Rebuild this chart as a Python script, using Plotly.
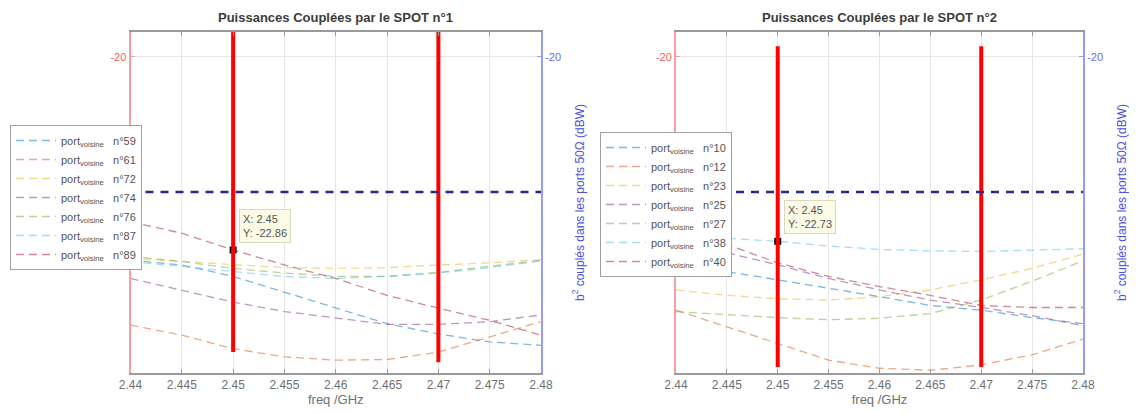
import plotly.graph_objects as go

# ---------------- data ----------------
freq = [2.44, 2.445, 2.45, 2.455, 2.46, 2.465, 2.47, 2.475, 2.48]
freq_labels = ["2.44", "2.445", "2.45", "2.455", "2.46", "2.465", "2.47", "2.475", "2.48"]

port_colors = ["#0072BD", "#D95319", "#EDB120", "#7E2F8E", "#77AC30", "#4DBEEE", "#A2142F"]

# SPOT n°1
spot1_ports = ["59", "61", "72", "74", "76", "87", "89"]
spot1_p59 = [-23.01, -23.08, -23.25, -23.48, -23.72, -23.95, -24.10, -24.22, -24.27]
spot1_p61 = [-23.97, -24.12, -24.32, -24.44, -24.49, -24.48, -24.37, -24.14, -23.92]
spot1_p72 = [-22.98, -23.03, -23.08, -23.12, -23.13, -23.12, -23.08, -23.05, -23.00]
spot1_p74 = [-23.28, -23.45, -23.63, -23.77, -23.87, -23.96, -23.96, -23.92, -23.82]
spot1_p76 = [-22.95, -23.03, -23.13, -23.20, -23.25, -23.25, -23.19, -23.10, -23.01]
spot1_p87 = [-23.03, -23.10, -23.18, -23.25, -23.28, -23.25, -23.20, -23.12, -23.02]
spot1_p89 = [-22.44, -22.61, -22.86, -23.08, -23.28, -23.53, -23.72, -23.90, -24.12]

# SPOT n°2
spot2_ports = ["10", "12", "23", "25", "27", "38", "40"]
spot2_p10 = [-23.12, -23.18, -23.30, -23.42, -23.55, -23.68, -23.75, -23.86, -23.95]
spot2_p12 = [-23.75, -24.00, -24.24, -24.49, -24.61, -24.64, -24.56, -24.41, -24.18]
spot2_p23 = [-23.45, -23.53, -23.58, -23.60, -23.55, -23.45, -23.30, -23.13, -22.92]
spot2_p25 = [-22.74, -22.90, -23.08, -23.28, -23.45, -23.60, -23.71, -23.83, -23.98]
spot2_p27 = [-23.77, -23.82, -23.86, -23.89, -23.87, -23.80, -23.60, -23.32, -23.02]
spot2_p38 = [-22.64, -22.68, -22.73, -22.80, -22.85, -22.87, -22.88, -22.86, -22.84]
spot2_p40 = [-22.50, -22.78, -23.05, -23.25, -23.40, -23.53, -23.68, -23.71, -23.71]

threshold_dbw = -22.0

# red markers (frequency band)
band_freqs = [2.45, 2.47]
spot1_band_top = [-19.63, -19.63]
spot1_band_bottom = [-24.37, -24.52]
spot2_band_top = [-19.84, -19.84]
spot2_band_bottom = [-24.59, -24.59]

# data tips
tip1 = (2.45, -22.86)
tip2 = (2.45, -22.73)

y_range = [-24.68, -19.63]

# ---------------- figure ----------------
W, H = 1137, 414
OFF = 8  # default page body margin
FW, FH = W - OFF, H - OFF

def px(x):
    return (x - OFF) / FW

def py(y):
    return 1 - (y - OFF) / FH

fig = go.Figure()

spot1_vals = [spot1_p59, spot1_p61, spot1_p72, spot1_p74, spot1_p76, spot1_p87, spot1_p89]
spot2_vals = [spot2_p10, spot2_p12, spot2_p23, spot2_p25, spot2_p27, spot2_p38, spot2_p40]

def add_ports(ports, vals, xa, ya, legend):
    for p, v, c in zip(ports, vals, port_colors):
        fig.add_trace(go.Scatter(
            x=freq, y=v, mode="lines", xaxis=xa, yaxis=ya,
            name="port<sub>voisine</sub>&nbsp;&nbsp;&nbsp;n°" + p,
            line=dict(color=c, width=1.3, dash="8px,5px"),
            opacity=0.5, legend=legend, showlegend=True))

add_ports(spot1_ports, spot1_vals, "x", "y", "legend")
add_ports(spot2_ports, spot2_vals, "x2", "y3", "legend2")

# threshold lines on the right axes
for xa, ya in (("x", "y2"), ("x2", "y4")):
    fig.add_trace(go.Scatter(
        x=[freq[0], freq[-1]], y=[threshold_dbw, threshold_dbw], mode="lines",
        xaxis=xa, yaxis=ya, showlegend=False,
        line=dict(color="#28288f", width=2.6, dash="8px,7px")))

# data tip markers
for (tx, ty), xa, ya in ((tip1, "x", "y"), (tip2, "x2", "y3")):
    fig.add_trace(go.Scatter(
        x=[tx], y=[ty], mode="markers", xaxis=xa, yaxis=ya, showlegend=False,
        marker=dict(symbol="square", size=7, color="black")))

# red vertical band lines
for tops, bots, xa, ya in ((spot1_band_top, spot1_band_bottom, "x", "y"),
                           (spot2_band_top, spot2_band_bottom, "x2", "y3")):
    for f, t, b in zip(band_freqs, tops, bots):
        fig.add_trace(go.Scatter(
            x=[f, f], y=[t, b], mode="lines", xaxis=xa, yaxis=ya,
            showlegend=False, cliponaxis=False,
            line=dict(color="#ff0000", width=4)))

ydom = [py(373), py(32)]
x1dom = [px(130.5), px(541)]
x2dom = [px(676), px(1083)]

grid_c = "#e6e6e6"
font_fam = "Liberation Sans, Arial, sans-serif"

def xaxis_cfg(dom, anchor):
    return dict(domain=dom, anchor=anchor, range=[freq[0], freq[-1]], automargin=False,
                tickvals=freq, ticktext=freq_labels, showgrid=True,
                gridcolor=grid_c, gridwidth=1, zeroline=False,
                showline=True, linecolor="#9a9a9a", linewidth=1.5, mirror="ticks",
                ticks="inside", ticklen=4, tickcolor="#9a9a9a",
                tickfont=dict(size=12, color="#707070"),
                title=dict(text="freq /GHz", font=dict(size=13, color="#707070"), standoff=4))

def yleft_cfg(anchor):
    return dict(domain=ydom, anchor=anchor, range=y_range, tickvals=[-20], automargin=False,
                ticktext=["-20"], showgrid=True, gridcolor=grid_c, zeroline=False,
                showline=True, linecolor="#f4a0a0", linewidth=2, ticks="inside",
                ticklen=4, tickcolor="#f4a0a0",
                tickfont=dict(size=11, color="#f06060"))

def yright_cfg(overlay, anchor):
    return dict(overlaying=overlay, anchor=anchor, side="right", range=y_range,
                automargin=False,
                tickvals=[-20], ticktext=["-20"], showgrid=False, zeroline=False,
                showline=True, linecolor="#9a9af0", linewidth=2, ticks="inside",
                ticklen=4, tickcolor="#9a9af0",
                tickfont=dict(size=11, color="#6a6ae8"),
                title=dict(text="b<sup>2</sup> couplés dans les ports 50Ω (dBW)",
                           font=dict(size=12, color="#5050e0"), standoff=15))

legend_common = dict(xanchor="left", yanchor="top", bgcolor="white",
                     bordercolor="#a0a0a0", borderwidth=1,
                     font=dict(size=11, color="#555555", family=font_fam),
                     itemwidth=40, tracegroupgap=0, traceorder="normal")

fig.update_layout(
    width=FW, height=FH, autosize=False,
    margin=dict(l=0, r=0, t=0, b=0, autoexpand=False),
    paper_bgcolor="white", plot_bgcolor="white",
    font=dict(family=font_fam),
    xaxis=xaxis_cfg(x1dom, "y"),
    yaxis=yleft_cfg("x"),
    yaxis2=yright_cfg("y", "x"),
    xaxis2=xaxis_cfg(x2dom, "y3"),
    yaxis3=yleft_cfg("x2"),
    yaxis4=yright_cfg("y3", "x2"),
    legend=dict(x=px(10), y=py(125), **legend_common),
    legend2=dict(x=px(600), y=py(132), **legend_common),
)

# titles
for txt, dom in (("Puissances Couplées par le SPOT n°1", x1dom),
                 ("Puissances Couplées par le SPOT n°2", x2dom)):
    fig.add_annotation(text="<b>" + txt + "</b>", xref="paper", yref="paper",
                       x=(dom[0] + dom[1]) / 2, y=py(17), showarrow=False,
                       xanchor="center", yanchor="middle",
                       font=dict(size=13, color="#3c3c3c"))

# data tip boxes
for (tx, ty), xr, yr in ((tip1, "x", "y"), (tip2, "x2", "y3")):
    fig.add_annotation(text="X: %g<br>Y: %.2f" % (tx, ty), xref=xr, yref=yr,
                       x=tx, y=ty, showarrow=False, xanchor="left", yanchor="bottom",
                       xshift=6, yshift=7, align="left",
                       bgcolor="#fbfbe6", bordercolor="#d9d9c0", borderwidth=1,
                       borderpad=3, font=dict(size=11, color="#555555"))

fig.write_html("out.html")
